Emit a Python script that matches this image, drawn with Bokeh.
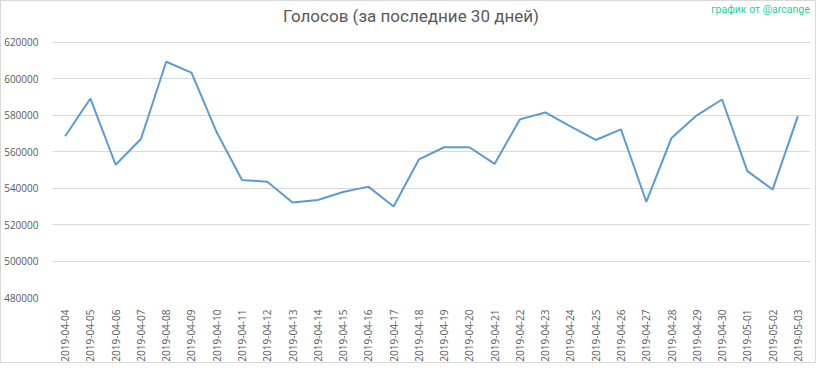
from bokeh.plotting import figure
from bokeh.models import FactorRange, Range1d, FixedTicker, BasicTickFormatter, Label
from bokeh.embed import file_html
from bokeh.resources import INLINE

dates = ["2019-04-04", "2019-04-05", "2019-04-06", "2019-04-07", "2019-04-08",
         "2019-04-09", "2019-04-10", "2019-04-11", "2019-04-12", "2019-04-13",
         "2019-04-14", "2019-04-15", "2019-04-16", "2019-04-17", "2019-04-18",
         "2019-04-19", "2019-04-20", "2019-04-21", "2019-04-22", "2019-04-23",
         "2019-04-24", "2019-04-25", "2019-04-26", "2019-04-27", "2019-04-28",
         "2019-04-29", "2019-04-30", "2019-05-01", "2019-05-02", "2019-05-03"]
votes = [568400, 589100, 552800, 566900, 609300,
         603300, 570600, 544400, 543500, 532100,
         533500, 537900, 540800, 529900, 555700,
         562400, 562400, 553300, 577700, 581500,
         573900, 566400, 572200, 532500, 567500,
         579900, 588600, 549300, 539200, 579500]
y_ticks = [480000, 500000, 520000, 540000, 560000, 580000, 600000, 620000]
title_text = "Голосов (за последние 30 дней)"
credit_text = "график от @arcange"

FONT = "Open Sans"
GRAY = "#595959"

# frame spans full height above the axis; headroom above 620000 holds title and credit
PX = 140000 / 257.0
Y_TOP = 480000 + 298 * PX

p = figure(width=816, height=363, output_backend="svg", toolbar_location=None,
           x_range=FactorRange(factors=dates, range_padding=0),
           y_range=Range1d(480000, Y_TOP),
           min_border_left=48, min_border_right=7, min_border_top=0, min_border_bottom=65,
           tools="")
p.outline_line_color = None
p.styles = {"border": "1px solid #d9d9d9"}

p.line(x=dates, y=votes, line_color="#5B9BD5", line_width=2)

p.yaxis.ticker = FixedTicker(ticks=y_ticks)
p.yaxis.formatter = BasicTickFormatter(use_scientific=False)
p.yaxis.axis_line_color = None
p.yaxis.major_tick_line_color = None
p.yaxis.minor_tick_line_color = None
p.yaxis.major_label_text_font = FONT
p.yaxis.major_label_text_font_size = "10px"
p.yaxis.major_label_text_color = GRAY
p.yaxis.major_label_standoff = 8

p.xaxis.axis_line_color = None
p.xaxis.major_tick_line_color = None
p.xaxis.minor_tick_line_color = None
p.xaxis.major_label_orientation = 1.5708
p.xaxis.major_label_text_font = FONT
p.xaxis.major_label_text_font_size = "10px"
p.xaxis.major_label_text_color = GRAY
p.xaxis.major_label_standoff = 6

p.xgrid.grid_line_color = None
p.ygrid.grid_line_color = "#d9d9d9"
p.ygrid.grid_line_width = 1

title = Label(x=14.19, y=Y_TOP - 15 * PX, text=title_text,
              text_align="center", text_baseline="middle", text_font="Roboto",
              text_font_size="17px", text_color=GRAY)
credit = Label(x=29.97, y=Y_TOP - 8 * PX, text=credit_text,
               text_align="right", text_baseline="middle", text_font="Roboto",
               text_font_size="10.5px", text_color="#19d3a2")
p.add_layout(title)
p.add_layout(credit)

open("out.html", "w").write(file_html(p, INLINE))
